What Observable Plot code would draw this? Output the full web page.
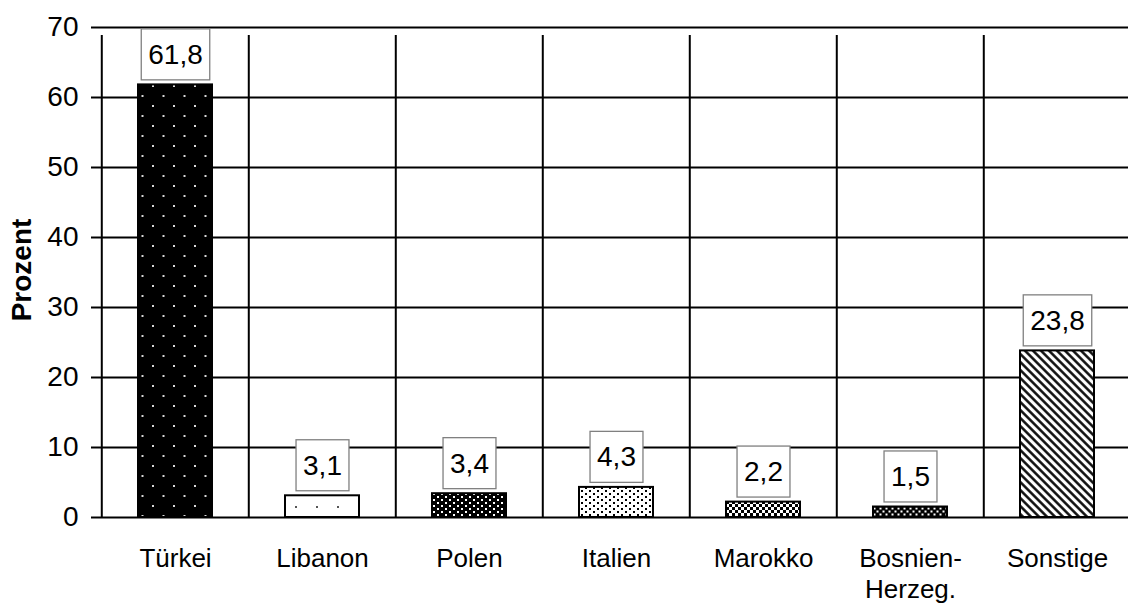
<!DOCTYPE html>
<html>
<head>
<meta charset="utf-8">
<script src="https://cdn.jsdelivr.net/npm/d3@7"></script>
<script src="https://cdn.jsdelivr.net/npm/@observablehq/plot@0.6"></script>
<style>
  html, body { margin: 0; padding: 0; background: #fff; overflow: hidden; }
  #chart svg { display: block; }
</style>
</head>
<body>
<div id="chart"></div>
<script>
// ---- data ----
const categories = ["Türkei", "Libanon", "Polen", "Italien", "Marokko", "Bosnien-\nHerzeg.", "Sonstige"];
const values = [61.8, 3.1, 3.4, 4.3, 2.2, 1.5, 23.8];
const yTicks = [0, 10, 20, 30, 40, 50, 60, 70];
const yLabel = "Prozent";

// ---- styles (fill patterns per bar) ----
const patternIds = ["pTurkei", "pLibanon", "pPolen", "pItalien", "pMarokko", "pBosnien", "pSonstige"];

const data = categories.map((c, i) => ({cat: c, value: values[i], fill: `url(#${patternIds[i]})`}));

const xRange = [100, 1132];
const step = (xRange[1] - xRange[0]) / categories.length;
const FONT = "'Liberation Sans', Arial, Helvetica, sans-serif";

const svg = Plot.plot({
  width: 1128,
  height: 603,
  marginLeft: 100,
  marginRight: 0,
  marginTop: 27,
  marginBottom: 86,
  style: {fontFamily: FONT, fontSize: "26px", color: "black", background: "white", overflow: "hidden"},
  x: {domain: categories, range: xRange, paddingInner: 0.5, paddingOuter: 0.25, axis: null},
  y: {domain: [0, 70], axis: null},
  color: {type: "identity"},
  marks: [
    Plot.ruleY(yTicks, {y: d => d, stroke: "black", strokeWidth: 2}),
    Plot.ruleX(categories, {x: d => d, dx: -step / 2, y1: 0, y2: 70, insetBottom: -8, stroke: "black", strokeWidth: 2}),
    Plot.axisY({ticks: yTicks, tickSize: 9, tickPadding: 13, strokeWidth: 2, fontSize: 28, tickFormat: d => String(d), label: null}),
    Plot.barY(data, {x: "cat", y: "value", fill: "fill", stroke: "black", strokeWidth: 2}),
    Plot.text(data, {
      x: "cat", y: "value",
      text: d => d.value.toFixed(1).replace(".", ","),
      dy: -30, fontSize: 28, fill: "black",
      ariaLabel: d => "val-" + d.cat
    }),
    Plot.text(categories, {x: d => d, frameAnchor: "bottom", text: d => d, lineAnchor: "top", lineHeight: 1.19, dy: 28, fontSize: 26, fill: "black"}),
    Plot.text([yLabel], {text: d => d, frameAnchor: "left", textAnchor: "middle", dx: -78, dy: -2.5, rotate: -90, fontSize: 28, fontWeight: "bold", fill: "black"})
  ]
});

document.getElementById("chart").append(svg);

// pattern definitions
const defs = `
<defs>
  <pattern id="pTurkei" patternUnits="userSpaceOnUse" width="21" height="20">
    <rect width="21" height="20" fill="#000"/>
    <rect x="5" y="5" width="2" height="2" fill="#d8d8d8"/>
    <rect x="15.5" y="15" width="2" height="2" fill="#d8d8d8"/>
  </pattern>
  <pattern id="pLibanon" patternUnits="userSpaceOnUse" width="21" height="21">
    <rect width="21" height="21" fill="#fff"/>
    <rect x="1" y="2" width="2" height="2" fill="#555"/>
  </pattern>
  <pattern id="pPolen" patternUnits="userSpaceOnUse" width="8" height="6">
    <rect width="8" height="6" fill="#000"/>
    <rect x="1" y="1" width="2" height="2" fill="#fff"/>
    <rect x="5" y="4" width="2" height="2" fill="#fff"/>
  </pattern>
  <pattern id="pItalien" patternUnits="userSpaceOnUse" width="8" height="6">
    <rect width="8" height="6" fill="#fff"/>
    <rect x="1" y="1" width="2" height="2" fill="#000"/>
    <rect x="5" y="4" width="2" height="2" fill="#000"/>
  </pattern>
  <pattern id="pMarokko" patternUnits="userSpaceOnUse" width="6" height="6">
    <rect width="6" height="6" fill="#000"/>
    <rect x="0" y="0" width="3" height="3" fill="#fff"/>
    <rect x="3" y="3" width="3" height="3" fill="#fff"/>
  </pattern>
  <pattern id="pBosnien" patternUnits="userSpaceOnUse" width="6" height="6">
    <rect width="6" height="6" fill="#000"/>
    <rect x="0.5" y="0.5" width="2" height="2" fill="#fff"/>
    <rect x="3.5" y="3.5" width="2" height="2" fill="#fff"/>
  </pattern>
  <pattern id="pSonstige" patternUnits="userSpaceOnUse" width="5.66" height="5.66" patternTransform="rotate(-45)">
    <rect width="5.66" height="5.66" fill="#fff"/>
    <line x1="1.4" y1="-1" x2="1.4" y2="7" stroke="#000" stroke-width="2.4"/>
  </pattern>
</defs>`;
svg.insertAdjacentHTML("afterbegin", defs);

// boxes behind value labels
const NS = "http://www.w3.org/2000/svg";
svg.querySelectorAll('text[aria-label^="val-"]').forEach(t => {
  const b = t.getBBox();
  const r = document.createElementNS(NS, "rect");
  r.setAttribute("x", b.x - 7);
  r.setAttribute("y", b.y - 10);
  r.setAttribute("width", b.width + 14);
  r.setAttribute("height", b.height + 20);
  r.setAttribute("fill", "#fff");
  r.setAttribute("stroke", "#808080");
  r.setAttribute("stroke-width", "1.3");
  const tr = t.getAttribute("transform");
  if (tr) r.setAttribute("transform", tr);
  t.parentNode.insertBefore(r, t);
});
</script>
</body>
</html>
